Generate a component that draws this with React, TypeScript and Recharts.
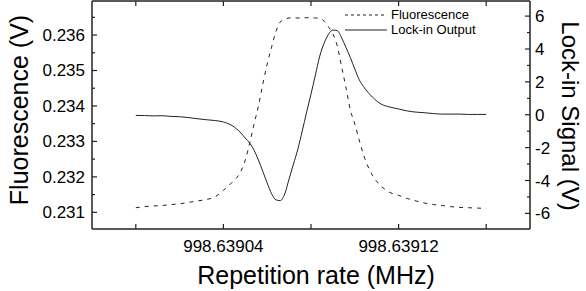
import { ComposedChart, Line, XAxis, YAxis, Legend, Label } from 'recharts';

// x values are offsets in Hz from 998.639 MHz
const BASE_MHZ = 998.639;

const hzOffsets = [
  0, 4, 8, 12, 16, 20, 24, 28, 32, 36, 40, 44, 48,
  50, 52, 54, 56, 58, 60, 62, 64, 66, 68, 70, 72, 74, 76, 78, 80, 82, 84, 86, 88, 90, 92, 94, 96, 98, 100, 102, 104,
  108, 112, 116, 120, 124, 128, 132, 136, 140, 144, 148, 152, 156, 160,
];

const fluorescence = [
  0.23113, 0.23116, 0.23118, 0.23119, 0.23122, 0.23124, 0.23128, 0.23132, 0.23136, 0.23143, 0.23162, 0.23185, 0.23216,
  0.23248, 0.23295, 0.23349, 0.234, 0.23462, 0.23518, 0.23566, 0.2361, 0.23637, 0.23645, 0.23648, 0.23649, 0.23648,
  0.23648, 0.23649, 0.23649, 0.23648, 0.23647, 0.23639, 0.23623, 0.23603, 0.23569, 0.2351, 0.23451, 0.23388, 0.23349,
  0.23304, 0.23262,
  0.23205, 0.23174, 0.23156, 0.23148, 0.23139, 0.23132, 0.23126, 0.23122, 0.23119, 0.23116, 0.23114, 0.23113, 0.23112, 0.23111,
];

const lockIn = [
  -0.04, -0.05, -0.07, -0.06, -0.1, -0.12, -0.17, -0.24, -0.3, -0.35, -0.44, -0.66, -1.11,
  -1.42, -1.72, -2.15, -2.76, -3.45, -4.15, -4.8, -5.18, -5.22, -4.82, -3.9, -3.0, -2.09, -0.99, 0.16, 1.26, 2.41,
  3.57, 4.35, 4.9, 5.15, 5.12, 4.67, 4.08, 3.47, 2.78, 2.14, 1.71,
  1.08, 0.65, 0.47, 0.35, 0.23, 0.16, 0.12, 0.07, 0.04, 0.04, 0.04, 0.02, 0.02, 0.02,
];

const xTicks = [0, 40, 80, 120, 160];
const xLabelTicks = [40, 120];
const fluorTicks = [0.231, 0.2315, 0.232, 0.2325, 0.233, 0.2335, 0.234, 0.2345, 0.235, 0.2355, 0.236, 0.2365];
const fluorLabelTicks = [0.231, 0.232, 0.233, 0.234, 0.235, 0.236];
const lockTicks = [-6, -5, -4, -3, -2, -1, 0, 1, 2, 3, 4, 5, 6];
const lockLabelTicks = [-6, -4, -2, 0, 2, 4, 6];

const data = hzOffsets.map((hz, i) => ({ hz, fluor: fluorescence[i], lock: lockIn[i] }));

const FONT = '"Liberation Sans", Arial, Helvetica, sans-serif';
const INK = '#222';
const FRAME = '#222';

const BottomTick = ({ x, y, payload }: any) => {
  const v = payload.value;
  return (
    <g>
      <line x1={x} x2={x} y1={y} y2={y - 5} stroke={FRAME} strokeWidth={1.2} />
      {xLabelTicks.includes(v) && (
        <text x={x} y={y + 23} textAnchor="middle" fontSize={17} fontFamily={FONT} fill="#000">
          {(BASE_MHZ + v * 1e-6).toFixed(5)}
        </text>
      )}
    </g>
  );
};

const TopTick = ({ x, y }: any) => (
  <line x1={x} x2={x} y1={y} y2={y + 5} stroke={FRAME} strokeWidth={1.2} />
);

const LeftTick = ({ x, y, payload }: any) => {
  const v = payload.value;
  const major = fluorLabelTicks.includes(v);
  return (
    <g>
      <line x1={x} x2={x + (major ? 5 : 3)} y1={y} y2={y} stroke={FRAME} strokeWidth={1.2} />
      {major && (
        <text x={x - 7} y={y + 6} textAnchor="end" fontSize={17} fontFamily={FONT} fill="#000">
          {v.toFixed(3)}
        </text>
      )}
    </g>
  );
};

const RightTick = ({ x, y, payload }: any) => {
  const v = payload.value;
  const major = lockLabelTicks.includes(v);
  return (
    <g>
      <line x1={x} x2={x - (major ? 5 : 3)} y1={y} y2={y} stroke={FRAME} strokeWidth={1.2} />
      {major && (
        <text x={x + 5} y={y + 6} textAnchor="start" fontSize={17} fontFamily={FONT} fill="#000">
          {String(v)}
        </text>
      )}
    </g>
  );
};

const LegendBox = ({ payload }: any) => (
  <div style={{ fontFamily: FONT, fontSize: 13, color: '#000', lineHeight: '15px' }}>
    {(payload || []).map((p: any) => (
      <div key={p.value} style={{ display: 'flex', alignItems: 'center', height: 15 }}>
        <svg width={44} height={10}>
          <line
            x1={0}
            x2={42}
            y1={5}
            y2={5}
            stroke={INK}
            strokeWidth={1}
            strokeDasharray={p.payload?.strokeDasharray ? '3 3' : undefined}
          />
        </svg>
        <span style={{ marginLeft: 2 }}>{p.value}</span>
      </div>
    ))}
  </div>
);

export default function App() {
  return (
    <div style={{ position: 'absolute', left: 0, top: 0, width: 586, height: 291, background: '#fff' }}>
      <ComposedChart width={586} height={291} data={data} margin={{ top: 0, right: 0, bottom: 0, left: 0 }}>
        <XAxis
          xAxisId="bottom"
          dataKey="hz"
          type="number"
          domain={[-20, 180]}
          allowDataOverflow
          ticks={xTicks}
          interval={0}
          height={62}
          tickSize={0}
          tickMargin={0}
          tickLine={false}
          axisLine={{ stroke: FRAME, strokeWidth: 1.5 }}
          tick={(p: any) => <BottomTick {...p} />}
        >
          <Label
            content={() => (
              <text x={316} y={284} textAnchor="middle" fontSize={25} fontFamily={FONT} fill="#000">
                Repetition rate (MHz)
              </text>
            )}
          />
        </XAxis>
        <XAxis
          xAxisId="top"
          orientation="top"
          dataKey="hz"
          type="number"
          domain={[-20, 180]}
          allowDataOverflow
          ticks={xTicks}
          interval={0}
          height={1}
          tickSize={0}
          tickMargin={0}
          tickLine={false}
          axisLine={{ stroke: FRAME, strokeWidth: 1.5 }}
          tick={(p: any) => <TopTick {...p} />}
        />
        <YAxis
          yAxisId="left"
          type="number"
          domain={[0.23053, 0.23696]}
          allowDataOverflow
          ticks={fluorTicks}
          interval={0}
          width={92}
          tickSize={0}
          tickMargin={0}
          tickLine={false}
          axisLine={{ stroke: FRAME, strokeWidth: 1.5 }}
          tick={(p: any) => <LeftTick {...p} />}
        >
          <Label
            content={() => (
              <text
                x={28}
                y={110}
                transform="rotate(-90 28 110)"
                textAnchor="middle"
                fontSize={25}
                fontFamily={FONT}
                fill="#000"
              >
                Fluorescence (V)
              </text>
            )}
          />
        </YAxis>
        <YAxis
          yAxisId="right"
          orientation="right"
          type="number"
          domain={[-6.95, 6.92]}
          allowDataOverflow
          ticks={lockTicks}
          interval={0}
          width={56}
          tickSize={0}
          tickMargin={0}
          tickLine={false}
          axisLine={{ stroke: FRAME, strokeWidth: 1.5 }}
          tick={(p: any) => <RightTick {...p} />}
        >
          <Label
            content={() => (
              <text
                x={562}
                y={116}
                transform="rotate(90 562 116)"
                textAnchor="middle"
                fontSize={24}
                fontFamily={FONT}
                fill="#000"
              >
                Lock-in Signal (V)
              </text>
            )}
          />
        </YAxis>
        <Legend
          layout="horizontal"
          verticalAlign="middle"
          align="center"
          wrapperStyle={{ top: 7, left: 345, width: 'auto' }}
          content={(p: any) => <LegendBox {...p} />}
        />
        <Line
          name="Fluorescence"
          xAxisId="bottom"
          yAxisId="left"
          dataKey="fluor"
          type="monotone"
          stroke={INK}
          strokeWidth={1}
          strokeDasharray="4 5"
          dot={false}
          isAnimationActive={false}
        />
        <Line
          name="Lock-in Output"
          xAxisId="bottom"
          yAxisId="right"
          dataKey="lock"
          type="monotone"
          stroke={INK}
          strokeWidth={1}
          dot={false}
          isAnimationActive={false}
        />
      </ComposedChart>
    </div>
  );
}
